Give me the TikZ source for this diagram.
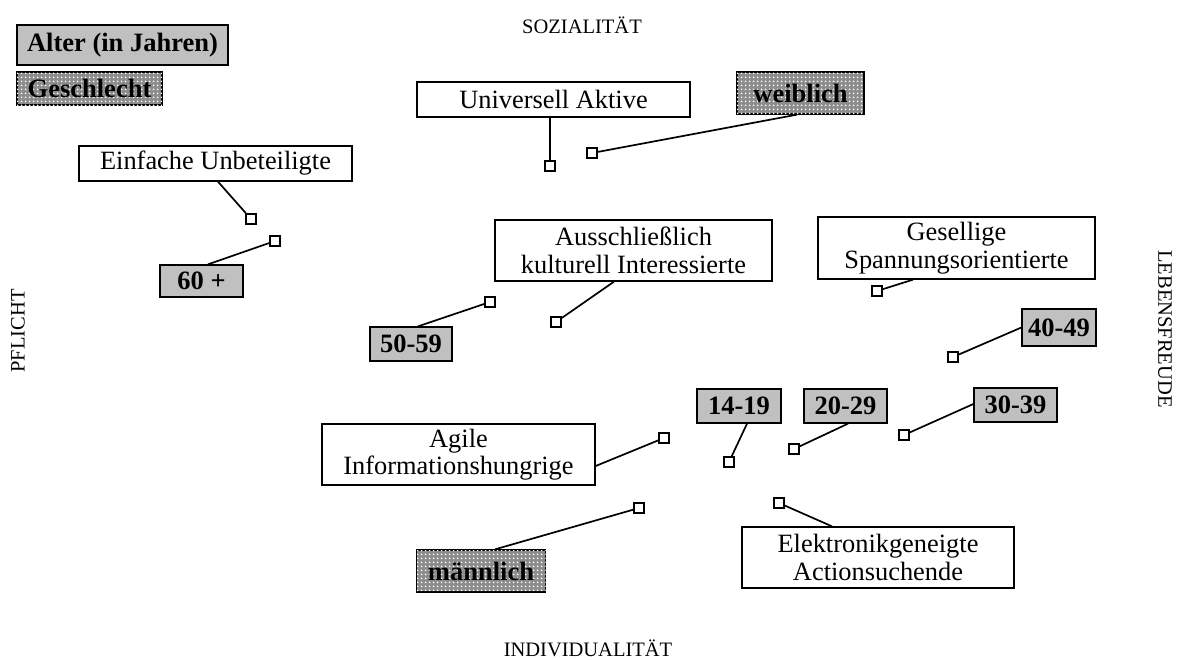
\documentclass[tikz,border=0pt]{standalone}
\usepackage{fontspec}
\setmainfont{Liberation Serif}
\usetikzlibrary{patterns,patterns.meta}
\definecolor{agegray}{HTML}{C0C0C0}
\definecolor{sexgray}{HTML}{8C8C8C}
\tikzdeclarepattern{name=bigdots, type=uncolored,
  bounding box={(0pt,0pt) and (4pt,4pt)}, tile size={(4pt,4pt)},
  code={\fill (2pt,2pt) circle (1.15pt);}}
\begin{document}
\begin{tikzpicture}[x=1pt,y=-1pt,
  seg/.style={draw, fill=white, line width=1.3pt, inner sep=0pt, align=center,
    font=\fontsize{26.4}{27.5}\selectfont},
  age/.style={draw, fill=agegray, line width=1.3pt, inner sep=0pt,
    font=\fontsize{26.5}{28}\selectfont\bfseries},
  sex/.style={draw, fill=sexgray, postaction={pattern=bigdots, pattern color=white},
    line width=1.3pt, inner sep=0pt, font=\fontsize{26.5}{28}\selectfont\bfseries},
  sqmark/.style={draw, fill=white, line width=2.4pt, minimum size=9.5pt, inner sep=0pt},
  conn/.style={line width=1.7pt},
  axislbl/.style={font=\fontsize{20.5}{22}\selectfont, inner sep=0pt}]
\useasboundingbox (0,0) rectangle (1182,659);

% axis labels
\node[axislbl] (soz) at (582,25) {SOZIALITÄT};
\node[axislbl] (ind) at (588,648) {INDIVIDUALITÄT};
\node[axislbl, rotate=90] (pfl) at (18,331) {PFLICHT};
\node[axislbl, rotate=-90] (leb) at (1165,329) {LEBENSFREUDE};

% legend
\node[age, minimum width=211pt, minimum height=40pt] (alter) at (122.5,45) {Alter (in Jahren)};
\node[sex, minimum width=145pt, minimum height=33pt] (geschl) at (89.5,88.5) {Geschlecht};

% segment boxes
\node[seg, minimum width=273pt, minimum height=35pt] (einf) at (215.5,163.5) {Einfache Unbeteiligte};
\node[seg, minimum width=273pt, minimum height=35pt] (univ) at (553.5,99.5) {Universell Aktive};
\node[seg, minimum width=277pt, minimum height=61pt] (aussch) at (633.5,250.5) {Ausschließlich\\kulturell Interessierte};
\node[seg, minimum width=277pt, minimum height=62pt] (gesell) at (956.5,248) {Gesellige\\Spannungsorientierte};
\node[seg, minimum width=273pt, minimum height=61pt] (agile) at (458.5,454.5) {Agile\\Informationshungrige};
\node[seg, minimum width=272pt, minimum height=61pt] (elek) at (878,557.5) {Elektronikgeneigte\\Actionsuchende};

% age boxes
\node[age, minimum width=83pt, minimum height=32pt] (a60) at (201.5,281) {60 +};
\node[age, minimum width=82pt, minimum height=34pt] (a50) at (411,344) {50-59};
\node[age, minimum width=74pt, minimum height=37pt] (a40) at (1059,327.5) {40-49};
\node[age, minimum width=83pt, minimum height=34pt] (a30) at (1015.5,405) {30-39};
\node[age, minimum width=83pt, minimum height=34pt] (a20) at (845.5,406) {20-29};
\node[age, minimum width=84pt, minimum height=34pt] (a14) at (739,406) {14-19};

% gender boxes
\node[sex, minimum width=127pt, minimum height=42pt] (weib) at (800.5,93) {weiblich};
\node[sex, minimum width=129pt, minimum height=42pt] (maenn) at (481,571) {männlich};

% position markers
\node[sqmark] (s1) at (251,219) {};
\node[sqmark] (s2) at (275,241) {};
\node[sqmark] (s3) at (550,166) {};
\node[sqmark] (s4) at (592,153) {};
\node[sqmark] (s5) at (556,322) {};
\node[sqmark] (s6) at (490,302) {};
\node[sqmark] (s7) at (877,291) {};
\node[sqmark] (s8) at (953,357) {};
\node[sqmark] (s9) at (904,435) {};
\node[sqmark] (s10) at (794,449) {};
\node[sqmark] (s11) at (729,462) {};
\node[sqmark] (s12) at (664,438) {};
\node[sqmark] (s13) at (639,508) {};
\node[sqmark] (s14) at (779,503) {};

% connectors
\draw[conn] ([xshift=2.5pt]einf.south) -- (s1);
\draw[conn] ([xshift=6.5pt]a60.north) -- (s2);
\draw[conn] ([xshift=-3.5pt]univ.south) -- (s3);
\draw[conn] ([xshift=-3.5pt]weib.south) -- (s4);
\draw[conn] ([xshift=-19.5pt]aussch.south) -- (s5);
\draw[conn] ([xshift=7pt]a50.north) -- (s6);
\draw[conn] ([xshift=-43.5pt]gesell.south) -- (s7);
\draw[conn] (a40.west) -- (s8);
\draw[conn] ([yshift=1pt]a30.west) -- (s9);
\draw[conn] ([xshift=2.5pt]a20.south) -- (s10);
\draw[conn] ([xshift=8pt]a14.south) -- (s11);
\draw[conn] ([yshift=-11.5pt]agile.east) -- (s12);
\draw[conn] ([xshift=14pt]maenn.north) -- (s13);
\draw[conn] ([xshift=-46pt]elek.north) -- (s14);
\end{tikzpicture}
\end{document}
